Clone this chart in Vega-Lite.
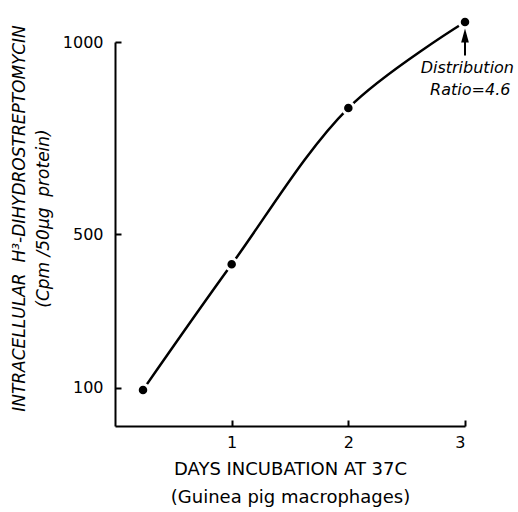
{
  "$schema": "https://vega.github.io/schema/vega-lite/v6.json",
  "width": 350,
  "height": 384,
  "autosize": {"type": "none"},
  "padding": {"left": 115, "top": 42, "right": 53, "bottom": 86},
  "background": "white",
  "config": {
    "view": {"stroke": null},
    "font": "DejaVu Sans",
    "axis": {
      "domainColor": "black",
      "domainWidth": 2,
      "tickColor": "black",
      "tickWidth": 2,
      "tickSize": -6,
      "grid": false,
      "labelColor": "black",
      "labelFont": "DejaVu Sans",
      "labelFontSize": 16,
      "titleColor": "black",
      "titleFont": "DejaVu Sans",
      "titleFontWeight": "normal"
    }
  },
  "datasets": {
    "pts": [
      {"day": 0.24, "cpm": 94},
      {"day": 1.0, "cpm": 421},
      {"day": 2.0, "cpm": 828},
      {"day": 3.0, "cpm": 1052}
    ],
    "shaft": [{"day": 3.0, "cpm": 965, "cpm2": 1005}],
    "head": [{"day": 3.0, "cpm": 1017}],
    "notes": [
      {"day": 3.02, "cpm": 932, "label": "Distribution"},
      {"day": 3.045, "cpm": 874, "label": "Ratio=4.6"}
    ]
  },
  "layer": [
    {
      "data": {"name": "pts"},
      "mark": {"type": "line", "interpolate": "catmull-rom", "color": "black", "strokeWidth": 2.5},
      "encoding": {
        "x": {
          "field": "day", "type": "quantitative",
          "scale": {"domain": [0, 3], "nice": false, "zero": false},
          "axis": {
            "values": [1, 2, 3],
            "format": "d",
            "labelPadding": 14,
            "title": ["DAYS INCUBATION AT 37C", "(Guinea pig macrophages)"],
            "titleFontSize": 18,
            "titlePadding": 10,
            "titleLineHeight": 28
          }
        },
        "y": {
          "field": "cpm", "type": "quantitative",
          "scale": {"domain": [0, 1000], "nice": false},
          "axis": {
            "values": [100, 500, 1000],
            "format": "d",
            "labelPadding": 18,
            "title": ["INTRACELLULAR\u00a0 H³-DIHYDROSTREPTOMYCIN", "(Cpm /50µg\u00a0 protein)"],
            "titleFontSize": 17,
            "titleFontStyle": "italic",
            "titlePadding": 10,
            "titleLineHeight": 24,
            "titleY": 176
          }
        }
      }
    },
    {
      "data": {"name": "pts"},
      "mark": {"type": "point", "filled": true, "fill": "black", "stroke": "white", "strokeWidth": 3, "opacity": 1, "size": 133},
      "encoding": {
        "x": {"field": "day", "type": "quantitative", "scale": {"domain": [0, 3], "nice": false, "zero": false}},
        "y": {"field": "cpm", "type": "quantitative", "scale": {"domain": [0, 1000], "nice": false}}
      }
    },
    {
      "data": {"name": "shaft"},
      "mark": {"type": "rule", "color": "black", "strokeWidth": 2},
      "encoding": {
        "x": {"field": "day", "type": "quantitative"},
        "y": {"field": "cpm", "type": "quantitative"},
        "y2": {"field": "cpm2"}
      }
    },
    {
      "data": {"name": "head"},
      "mark": {"type": "point", "filled": true, "color": "black", "opacity": 1, "size": 196, "shape": "M0,-1L0.55,1L-0.55,1Z"},
      "encoding": {
        "x": {"field": "day", "type": "quantitative"},
        "y": {"field": "cpm", "type": "quantitative"}
      }
    },
    {
      "data": {"name": "notes"},
      "mark": {"type": "text", "font": "DejaVu Sans", "fontStyle": "italic", "fontSize": 16, "color": "black", "align": "center", "baseline": "middle"},
      "encoding": {
        "x": {"field": "day", "type": "quantitative"},
        "y": {"field": "cpm", "type": "quantitative"},
        "text": {"field": "label"}
      }
    }
  ]
}
